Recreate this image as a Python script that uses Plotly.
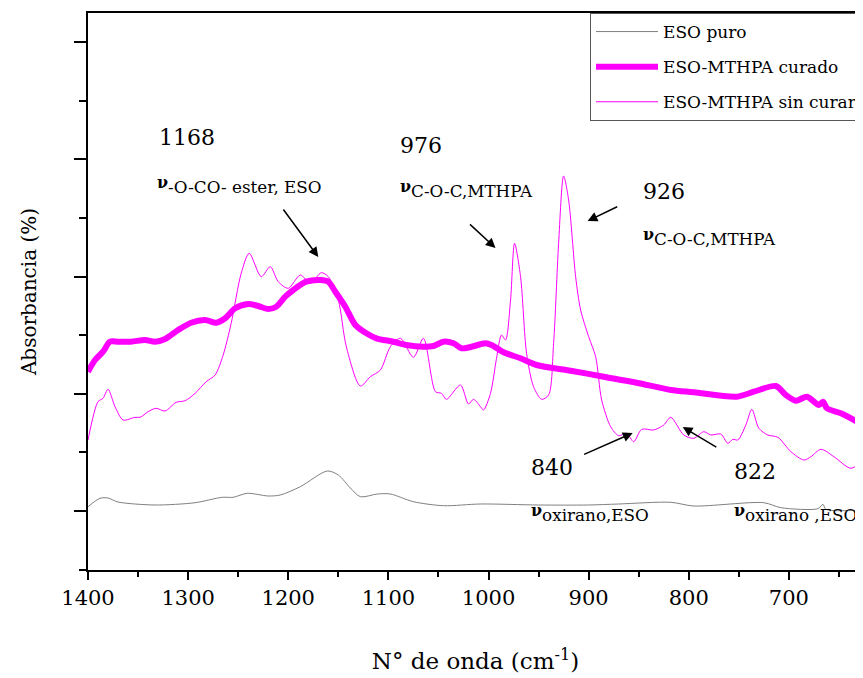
import plotly.graph_objects as go

# ---------------- data ----------------
eso_w = [1400,1388,1380,1370,1333,1293,1266,1255,1241,1220,1208,1188,1161,1150,1138,1128,1111,1098,1075,1045,1008,950,900,870,818,795,725,708,671,666,663,626]
eso_v = [6.33,7.17,7.2,6.8,6.5,6.73,7.27,7.27,7.67,7.4,7.5,8.33,9.9,9.5,8.2,7.33,7.6,7.6,6.83,6.43,6.6,6.5,6.5,6.6,6.77,6.4,6.73,6.23,6.13,6.57,6.07,6.0]

cur_w = [1400,1393,1385,1378,1370,1357,1343,1333,1323,1310,1297,1283,1272,1263,1253,1240,1230,1220,1212,1203,1195,1182,1168,1160,1153,1143,1133,1122,1112,1095,1082,1065,1055,1045,1035,1027,1018,1003,997,985,968,952,918,885,852,818,795,752,735,713,703,693,682,670,666,662,648,626]
cur_v = [19.83,21.0,21.83,22.83,22.83,22.83,23.0,22.83,23.1,24.0,24.73,25.0,24.73,25.17,26.17,26.6,26.4,26.1,26.33,27.33,28.0,28.83,29.0,28.83,27.83,26.33,24.5,23.67,23.17,22.83,22.5,22.33,22.4,22.83,22.67,22.17,22.3,22.67,22.5,21.77,21.17,20.5,19.93,19.33,18.73,18.0,17.77,17.33,17.83,18.4,17.5,16.93,17.33,16.5,16.83,16.17,15.67,14.5]

sin_w = [1400,1390,1385,1380,1373,1365,1353,1348,1340,1332,1323,1312,1303,1293,1282,1273,1265,1257,1247,1239,1227,1218,1210,1200,1188,1178,1167,1160,1150,1142,1128,1118,1108,1098,1088,1075,1065,1053,1047,1042,1028,1020,1015,1008,1005,998,992,987,983,978,974,968,962,955,947,940,935,930,925,920,913,908,900,893,887,878,870,862,855,847,835,825,818,805,795,785,778,768,761,756,751,743,737,730,721,711,698,685,678,668,655,638,626]
sin_v = [13.0,16.83,17.17,18.07,16.33,15.0,15.27,15.27,15.83,16.17,15.9,16.77,16.93,17.67,18.83,19.5,21.5,24.67,29.67,31.67,29.33,30.33,28.83,28.17,29.5,28.67,29.73,29.33,27.0,22.33,18.4,19.33,20.0,22.33,23.17,21.27,23.17,17.83,17.67,17.07,18.5,16.6,17.07,16.33,16.0,17.67,21.17,23.5,23.0,27.0,32.67,29.33,21.67,18.33,17.07,17.5,22.67,32.67,39.4,37.0,29.33,26.0,23.33,21.33,17.0,14.33,13.43,13.67,12.83,14.07,14.0,14.5,15.27,13.5,13.17,13.83,13.5,13.6,12.67,13.07,13.0,14.5,16.07,14.17,13.5,13.27,11.83,11.0,11.33,12.07,11.33,10.17,11.0]

series_names = ["ESO puro", "ESO-MTHPA curado", "ESO-MTHPA sin curar"]

# annotation texts and anchor positions (wavenumber, absorbance)
num_labels = [("1168", 1331, 43.3), ("976", 1090, 42.5), ("926", 848, 37.9),
              ("840", 960, 10.3), ("822", 757, 9.9)]
nu_labels = [("-O-CO- ester, ESO", 1333, 38.5), ("C-O-C,MTHPA", 1090, 38.1),
             ("C-O-C,MTHPA", 848, 33.3), ("oxirano,ESO", 960, 5.7),
             ("oxirano ,ESO", 757, 5.7)]
arrows = [  # (tail_w, tail_v, head_w, head_v)
    (1206, 36.2, 1170, 31.3),
    (1020, 34.7, 993, 32.2),
    (870, 36.4, 901, 34.9),
    (906, 11.5, 856, 13.7),
    (771, 12.2, 806, 14.3),
]

FONT = "DejaVu Serif"

fig = go.Figure()
fig.add_trace(go.Scatter(x=eso_w, y=eso_v, mode="lines", name=series_names[0],
                         line=dict(color="#808080", width=1, shape="spline", smoothing=0.8),
                         legendgroup="a"))
fig.add_trace(go.Scatter(x=cur_w, y=cur_v, mode="lines", name=series_names[1],
                         line=dict(color="#FF00FF", width=6, shape="spline", smoothing=0.8),
                         legendgroup="b"))
fig.add_trace(go.Scatter(x=sin_w, y=sin_v, mode="lines", name=series_names[2],
                         line=dict(color="#FF00FF", width=1, shape="spline", smoothing=0.8),
                         legendgroup="c"))

annotations = []
for t, w, v in num_labels:
    annotations.append(dict(x=w, y=v, xref="x", yref="y", text=t, showarrow=False,
                            xanchor="left", yanchor="middle",
                            font=dict(family=FONT, size=22, color="black")))
for t, w, v in nu_labels:
    annotations.append(dict(x=w, y=v, xref="x", yref="y",
                            text="<span style='font-size:16px'><b>ν</b></span><sub>" + t + "</sub>",
                            showarrow=False, xanchor="left", yanchor="middle",
                            font=dict(family=FONT, size=24, color="black")))
for tw, tv, hw, hv in arrows:
    annotations.append(dict(x=hw, y=hv, xref="x", yref="y", ax=tw, ay=tv,
                            axref="x", ayref="y", text="", showarrow=True,
                            arrowhead=2, arrowsize=1.3, arrowwidth=1.5,
                            arrowcolor="black", standoff=0))

fig.update_layout(
    width=855, height=670,
    margin=dict(l=80, r=0, t=5, b=108, autoexpand=False),
    paper_bgcolor="white", plot_bgcolor="white",
    font=dict(family=FONT, size=21, color="black"),
    showlegend=True,
    legend=dict(x=1, xanchor="right", y=1, yanchor="top",
                bgcolor="white", bordercolor="#555555", borderwidth=1,
                font=dict(family=FONT, size=17, color="black"),
                itemwidth=62, tracegroupgap=10),
    annotations=annotations,
)
fig.update_xaxes(
    range=[1400, 626], showgrid=False, zeroline=False,
    showline=True, linecolor="black", linewidth=2, mirror=True,
    ticks="outside", ticklen=8, tickwidth=2, tickcolor="black",
    tick0=1400, dtick=100,
    minor=dict(ticks="outside", ticklen=5, tickwidth=2, tickcolor="black", dtick=50, tick0=1400),
    tickfont=dict(family=FONT, size=21),
    title=dict(text="N° de onda (cm<sup>-1</sup>)", font=dict(family=FONT, size=23), standoff=44),
)
fig.update_yaxes(
    range=[0, 55.7], showgrid=False, zeroline=False,
    showline=True, linecolor="black", linewidth=2,
    ticks="outside", ticklen=12, tickwidth=2, tickcolor="black",
    tick0=5.9, dtick=11.725, showticklabels=False,
    minor=dict(ticks="outside", ticklen=7, tickwidth=2, tickcolor="black", tick0=0.0375, dtick=5.8625),
    title=dict(text="Absorbancia (%)", font=dict(family=FONT, size=20), standoff=32),
)

fig.write_html("out.html")
